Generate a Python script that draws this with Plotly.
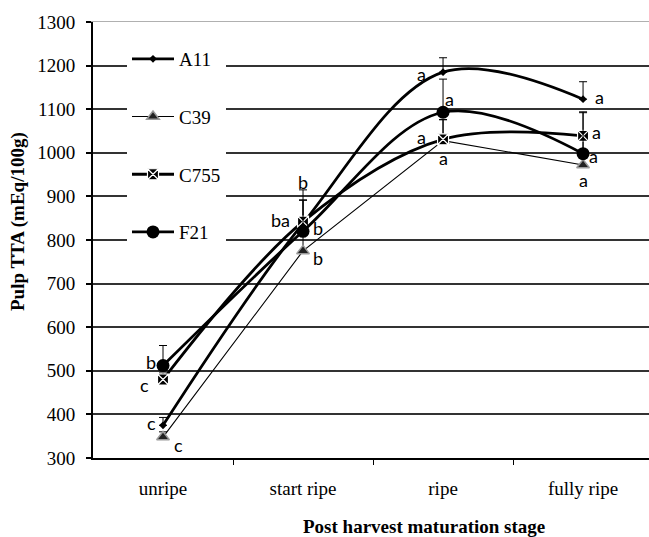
import plotly.graph_objects as go

stages = ["unripe", "start ripe", "ripe", "fully ripe"]
x_pos = [0, 1, 2, 3]

names = ["A11", "C39", "C755", "F21"]
a11 = [375, 838, 1185, 1123]
c39 = [348, 775, 1028, 972]
c755 = [480, 842, 1031, 1039]
f21 = [512, 820, 1093, 998]

a11_err = [18, 77, 33, 40]
c39_err = [12, 40, 48, 60]
c755_err = [15, 50, 45, 55]
f21_err = [46, 71, 76, 94]

a11_lett = ["c", "b", "a", "a"]
c39_lett = ["c", "b", "a", "a"]
c755_lett = ["c", "ba", "a", "a"]
f21_lett = ["b", "b", "a", "a"]

y_ticks = [300, 400, 500, 600, 700, 800, 900, 1000, 1100, 1200, 1300]

SERIF = "Liberation Serif, Times New Roman, serif"

series = [
    dict(name="A11", y=a11, err=a11_err, lett=a11_lett, width=2.8, shape="spline",
         marker=dict(symbol="diamond", size=6, color="black")),
    dict(name="C39", y=c39, err=c39_err, lett=c39_lett, width=1.1, shape="linear",
         marker=dict(symbol="triangle-up", size=11, color="#222",
                     line=dict(color="#9a9a9a", width=1.5))),
    dict(name="C755", y=c755, err=c755_err, lett=c755_lett, width=2.8, shape="spline",
         marker=dict(symbol="square-x", size=11, color="black",
                     line=dict(color="white", width=1.2))),
    dict(name="F21", y=f21, err=f21_err, lett=f21_lett, width=2.8, shape="spline",
         marker=dict(symbol="circle", size=13, color="black")),
]

# pixel offsets of letter labels (style)
offsets = {
    "A11": [(-12, 2), (0, 41), (-22, -2), (16, 2)],
    "C39": [(15, -8), (15, -7), (0, -17), (0, -15)],
    "C755": [(-19, -5), (-23, 2), (-22, 2), (13, 4)],
    "F21": [(-12, 4), (15, 3), (6, 13), (10, -2)],
}

fig = go.Figure()
for s in series:
    fig.add_trace(go.Scatter(
        x=x_pos, y=s["y"], name=s["name"], legendgroup=s["name"],
        mode="lines+markers",
        line=dict(color="black", width=s["width"], shape=s["shape"], smoothing=1),
        marker=s["marker"],
        error_y=dict(type="data", array=s["err"], arrayminus=[0] * 4,
                     symmetric=False, color="black", thickness=1, width=4),
    ))

annotations = []
for s in series:
    for i, (xv, yv, t) in enumerate(zip(x_pos, s["y"], s["lett"])):
        dx, dy = offsets[s["name"]][i]
        annotations.append(dict(
            x=xv, y=yv, xref="x", yref="y", text=t, showarrow=False,
            xshift=dx, yshift=dy,
            font=dict(family="Lato", size=18, color="black")))

annotations.append(dict(
    x=(424 - 93) / 556, y=-(526 - 458) / 436, xref="paper", yref="paper",
    text="<b>Post harvest maturation stage</b>", showarrow=False,
    xanchor="center", yanchor="middle",
    font=dict(family=SERIF, size=19, color="black")))
annotations.append(dict(
    x=-(93 - 18) / 556, y=(458 - 222) / 436, xref="paper", yref="paper",
    text="<b>Pulp TTA (mEq/100g)</b>", showarrow=False, textangle=-90,
    xanchor="center", yanchor="middle",
    font=dict(family=SERIF, size=19, color="black")))

fig.update_layout(
    width=649, height=537,
    margin=dict(l=93, r=0, t=22, b=79, autoexpand=False),
    paper_bgcolor="white", plot_bgcolor="white",
    font=dict(family=SERIF, size=19, color="black"),
    showlegend=True,
    legend=dict(x=(127 - 93) / 556, y=(458 - 40) / 436, xanchor="left",
                yanchor="top", bgcolor="white", tracegroupgap=30,
                itemwidth=42, font=dict(family=SERIF, size=19),
                borderwidth=0),
    annotations=annotations,
    xaxis=dict(
        range=[-0.5, 3.471], tickmode="array", tickvals=x_pos, ticktext=stages,
        ticks="", showgrid=False, zeroline=False, showline=True,
        linecolor="black", linewidth=2, ticklabelstandoff=12,
        minor=dict(tickmode="array", tickvals=[0.5, 1.5, 2.5], ticks="outside",
                   ticklen=5, tickwidth=1, tickcolor="black", showgrid=False),
        tickfont=dict(family=SERIF, size=19),
    ),
    xaxis2=dict(overlaying="x", side="top", showline=True, linecolor="#b0b0b0",
                linewidth=1, showticklabels=False, ticks="", showgrid=False,
                range=[-0.5, 3.471], zeroline=False),
    yaxis=dict(
        range=[300, 1300], tickmode="array", tickvals=y_ticks,
        ticks="outside", ticklen=5, tickwidth=1.5, tickcolor="black",
        showgrid=False, zeroline=False, showline=True, linecolor="black",
        linewidth=2, ticklabelstandoff=7,
        minor=dict(tickmode="array", tickvals=y_ticks[1:-1], showgrid=True,
                   gridcolor="#333333", gridwidth=1.5, ticks=""),
        tickfont=dict(family=SERIF, size=19),
    ),
)

fig.add_trace(go.Scatter(x=[None], y=[None], xaxis="x2", showlegend=False,
                         hoverinfo="skip"))

fig.write_html("out.html", config={"displayModeBar": False},
               post_script="document.body.style.margin='0';document.body.style.overflow='hidden';")
